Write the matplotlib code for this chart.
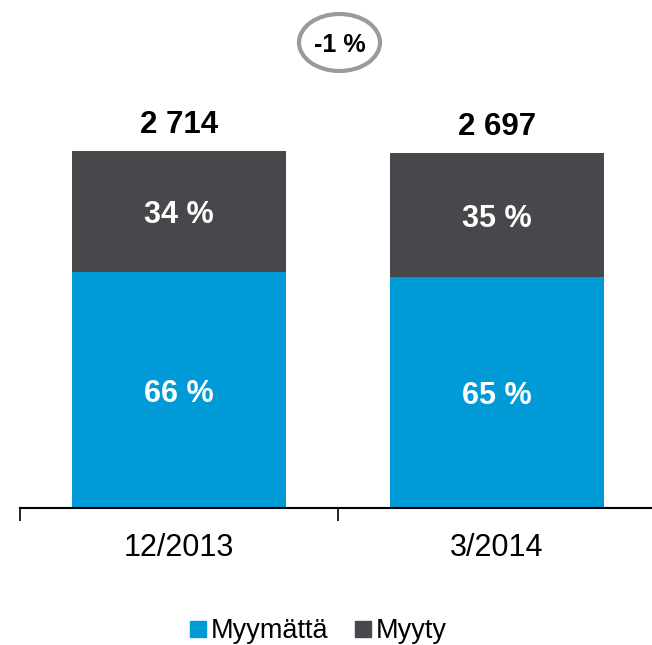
import matplotlib
matplotlib.use("Agg")
import matplotlib.pyplot as plt
from matplotlib.patches import Ellipse
from matplotlib.lines import Line2D
import numpy as np

plt.rcParams['font.family'] = ['Liberation Sans', 'DejaVu Sans']

# data
categories = ['12/2013', '3/2014']
totals = [2714, 2697]
unsold_pct = [66, 65]   # Myymättä
sold_pct = [34, 35]     # Myyty
change_label = '-1 %'
series_names = ['Myymättä', 'Myyty']

blue = '#009BD6'
dark = '#48474B'

W, H = 652, 645
fig = plt.figure(figsize=(W / 100, H / 100), dpi=100)
ax = fig.add_axes([20 / W, (H - 508) / H, 636 / W, 508 / H])

x = np.arange(len(categories))
tot = np.array(totals, dtype=float)
unsold = tot * np.array(unsold_pct) / 100
sold = tot - unsold

ax.bar(x, unsold, width=0.67, color=blue)
ax.bar(x, sold, bottom=unsold, width=0.67, color=dark)

for i in range(len(x)):
    ax.text(x[i], unsold[i] / 2, f'{unsold_pct[i]} %', ha='center', va='center_baseline',
            color='white', fontsize=22, fontweight='bold')
    ax.text(x[i], unsold[i] + sold[i] / 2, f'{sold_pct[i]} %', ha='center', va='center_baseline',
            color='white', fontsize=22, fontweight='bold')
    ax.annotate(f'{totals[i]:,}'.replace(',', ' '), (x[i], tot[i]), xytext=(0, 13),
                textcoords='offset points', ha='center', va='baseline',
                fontsize=22.5, fontweight='bold', color='black')

ax.set_xlim(-0.5, 1.5)
ax.set_ylim(0, 2714 * 508 / 357)
for s in ['top', 'right', 'left']:
    ax.spines[s].set_visible(False)
ax.spines['bottom'].set_linewidth(1.5)
ax.set_yticks([])
ax.set_xticks(x)
ax.set_xticklabels(categories, fontsize=22)
ax.tick_params(axis='x', which='major', length=0, pad=18)
ax.set_xticks([-0.5, 0.5, 1.5], minor=True)
ax.tick_params(axis='x', which='minor', length=9, width=1.2, direction='out')

# change bubble
ell = Ellipse((339.5 / W, 1 - 42.5 / H), 81 / W, 57 / H, transform=fig.transFigure,
              facecolor='white', edgecolor='#9A9A9A', linewidth=3)
fig.patches.append(ell)
fig.text(339.5 / W, 1 - 43 / H, change_label, ha='center', va='center_baseline',
         fontsize=18, fontweight='bold')

handles = [Line2D([], [], marker='s', linestyle='', markersize=11, color=blue),
           Line2D([], [], marker='s', linestyle='', markersize=11, color=dark)]
fig.legend(handles, series_names, loc='center', bbox_to_anchor=(317 / W, 1 - 631 / H),
           ncol=2, frameon=False, fontsize=19.5, handletextpad=0.05, columnspacing=0.9,
           handlelength=0.8)

fig.savefig('out.png', dpi=100)
